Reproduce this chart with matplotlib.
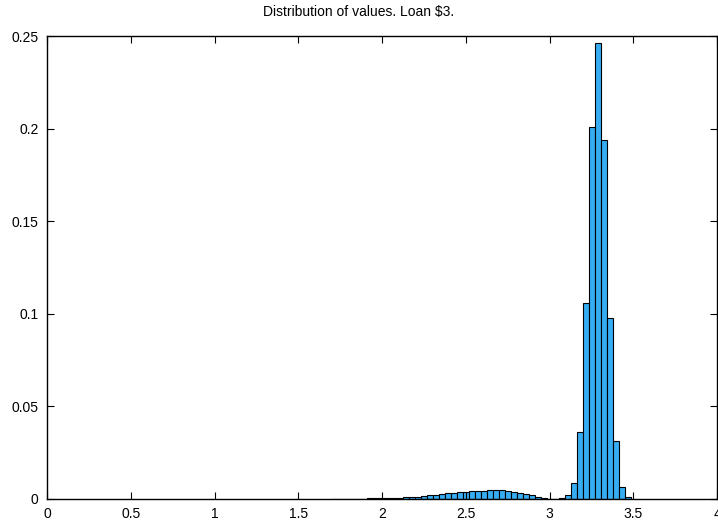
import matplotlib
matplotlib.use('Agg')
import matplotlib.pyplot as plt
import numpy as np
from matplotlib.ticker import FuncFormatter

# histogram of simulated values
bin_start = 1.697     # left edge of first bin
bin_width = 0.0358
freq = [0.0001, 0.0001, 0.0001, 0.0002, 0.0002, 0.0002, 0.0003, 0.0003, 0.0004, 0.0004,
        0.0005, 0.0008, 0.0010, 0.0012, 0.0013, 0.0016, 0.0019, 0.0022, 0.0026, 0.0030,
        0.0034, 0.0037, 0.0040, 0.0042, 0.0044, 0.0045, 0.0046, 0.0046, 0.0046, 0.0044,
        0.0040, 0.0035, 0.0027, 0.0019, 0.0010, 0.0005, 0.0002, 0.0001, 0.0003, 0.0020,
        0.0085, 0.0360, 0.1057, 0.2010, 0.2464, 0.1938, 0.0976, 0.0315, 0.0066, 0.0012]
title = 'Distribution of values. Loan \\$3.'

plt.rcParams['font.family'] = ['Liberation Sans', 'DejaVu Sans']
fig = plt.figure(figsize=(7.18, 5.24), dpi=100)
ax = fig.add_axes([47/718, 25/524, 670/718, 463/524])

edges = bin_start + bin_width*np.arange(len(freq))
ax.bar(edges, freq, width=bin_width, align='edge', color='#36adf3',
       edgecolor='black', linewidth=0.8)

ax.set_xlim(0, 4)
ax.set_ylim(0, 0.25)
ax.set_xticks(np.arange(0, 4.01, 0.5))
ax.set_yticks(np.arange(0, 0.251, 0.05))
fmt = FuncFormatter(lambda v, p: '%g' % round(v, 3))
ax.xaxis.set_major_formatter(fmt)
ax.yaxis.set_major_formatter(fmt)
ax.tick_params(direction='in', length=5, top=True, right=True, labelsize=10,
               pad=6, width=0.8)
for s in ax.spines.values():
    s.set_linewidth(1.0)
# title centred on the whole figure, like gnuplot does
fig.text(0.5, 1 - 12/524, title, fontsize=10, ha='center', va='center')

plt.savefig('out.png', dpi=100)
